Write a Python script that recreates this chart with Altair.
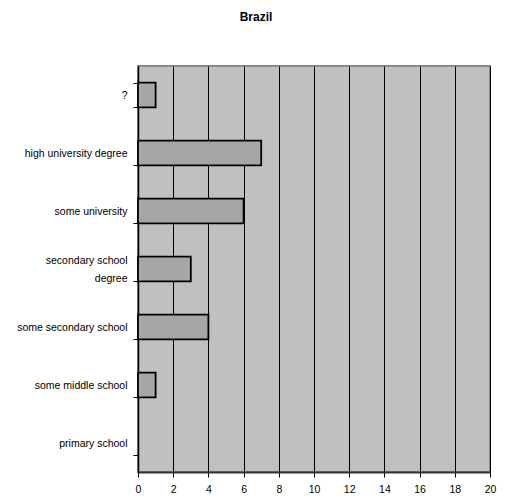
import altair as alt
import pandas as pd

categories = ["?", "high university degree", "some university", "secondary school degree",
              "some secondary school", "some middle school", "primary school"]
values = [1, 7, 6, 3, 4, 1, 0]

df = pd.DataFrame({"cat": categories, "val": values})

label_expr = ("datum.label == 'secondary school degree' ? ['secondary school', 'degree'] : datum.label")

bars = alt.Chart(df).mark_bar(
    color="#A6A6A6", stroke="black", strokeWidth=1.8
).encode(
    x=alt.X("val:Q", scale=alt.Scale(domain=[0, 20], nice=False),
            axis=alt.Axis(values=list(range(0, 21, 2)), title=None, grid=True,
                          gridColor="black", gridWidth=1, gridOpacity=1,
                          domainColor="#333333", domainWidth=2, labelFlush=False,
                          tickColor="black", tickSize=5, labelPadding=7,
                          labelFont="Liberation Sans", labelFontSize=10.5, labelColor="black")),
    y=alt.Y("cat:N", sort=categories,
            scale=alt.Scale(domain=categories, paddingInner=0.57, paddingOuter=0.285),
            axis=alt.Axis(title=None, tickBand="extent", tickColor="black", tickSize=5,
                          domainColor="black", domainWidth=1.5, labelPadding=6,
                          labelExpr=label_expr, labelLineHeight=18,
                          labelOffset={"condition": {"test": "datum.label == 'secondary school degree'",
                                                     "value": -9}, "value": 0},
                          labelFont="Liberation Sans", labelFontSize=10.5, labelColor="black",
                          labelLimit=200)),
    strokeOpacity=alt.condition(alt.datum.val > 0, alt.value(1), alt.value(0)),
)

chart = bars.properties(
    width=352, height=406,
    title=alt.TitleParams("Brazil", font="Liberation Sans", fontSize=12, fontWeight="bold",
                          anchor="middle", dx=-58, offset=37, color="black"),
    autosize=alt.AutoSizeParams(type="none"),
    padding={"left": 130, "top": 58, "right": 9, "bottom": 22},
).configure_view(
    fill="#C0C0C0", stroke="#888888", strokeWidth=2
)

chart.save("out.html", embed_options={"renderer": "svg", "actions": False})
